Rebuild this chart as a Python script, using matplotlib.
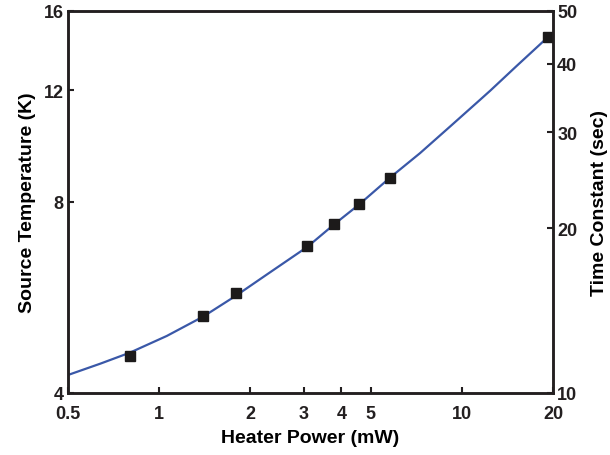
import matplotlib.pyplot as plt
from matplotlib.ticker import FixedLocator, NullLocator, FixedFormatter

plt.rcParams['font.family'] = ['Liberation Sans', 'DejaVu Sans']
plt.rcParams['font.weight'] = 'bold'

# measured points (heater power in mW, source temperature in K)
power = [0.8, 1.4, 1.8, 3.09, 3.79, 4.58, 5.79, 19.2]
temp = [4.58, 5.28, 5.76, 6.82, 7.38, 7.93, 8.74, 14.54]

# fitted curve
fit_power = [0.5, 0.64, 0.8, 1.06, 1.4, 1.8, 2.27, 3.09, 3.79, 4.58, 5.79,
             7.27, 9.14, 11.5, 12.4, 15.2, 19.2]
fit_temp = [4.27, 4.45, 4.63, 4.92, 5.28, 5.70, 6.15, 6.80, 7.38, 7.93, 8.74,
            9.55, 10.52, 11.6, 11.98, 13.12, 14.54]

x_ticks = [0.5, 1, 2, 3, 4, 5, 10, 20]
x_labels = ['0.5', '1', '2', '3', '4', '5', '10', '20']
left_ticks = [4, 8, 12, 16]
right_ticks = [10, 20, 30, 40, 50]

fig = plt.figure(figsize=(6.1, 4.56), dpi=100)
ax = fig.add_axes([0.1115, 0.136, 0.7951, 0.8377])

ax.plot(fit_power, fit_temp, '-', color='#3a58a8', lw=1.6, zorder=2)
ax.plot(power, temp, 's', color='#1c1a1a', markersize=7, zorder=3)

ax.set_xscale('log')
ax.set_yscale('log')
ax.set_xlim(0.5, 20)
ax.set_ylim(4, 16)
ax.xaxis.set_major_locator(FixedLocator(x_ticks))
ax.xaxis.set_major_formatter(FixedFormatter(x_labels))
ax.xaxis.set_minor_locator(NullLocator())
ax.yaxis.set_major_locator(FixedLocator(left_ticks))
ax.yaxis.set_major_formatter(FixedFormatter([str(t) for t in left_ticks]))
ax.yaxis.set_minor_locator(NullLocator())

ax2 = ax.twinx()
ax2.set_yscale('log')
ax2.set_ylim(10, 50)
ax2.yaxis.set_major_locator(FixedLocator(right_ticks))
ax2.yaxis.set_major_formatter(FixedFormatter([str(t) for t in right_ticks]))
ax2.yaxis.set_minor_locator(NullLocator())

for a in (ax, ax2):
    for s in a.spines.values():
        s.set_linewidth(1.8)
        s.set_color('#231f20')
    a.tick_params(direction='in', length=4, width=1.5, labelsize=13,
                  colors='#231f20', pad=3)
ax.tick_params(axis='x', pad=9)

ax.set_xlabel('Heater Power (mW)', fontsize=14, fontweight='bold', labelpad=5)
ax.set_ylabel('Source Temperature (K)', fontsize=14, fontweight='bold', labelpad=6)
ax2.set_ylabel('Time Constant (sec)', fontsize=14, fontweight='bold', labelpad=10)

fig.savefig('out.png', dpi=100)
